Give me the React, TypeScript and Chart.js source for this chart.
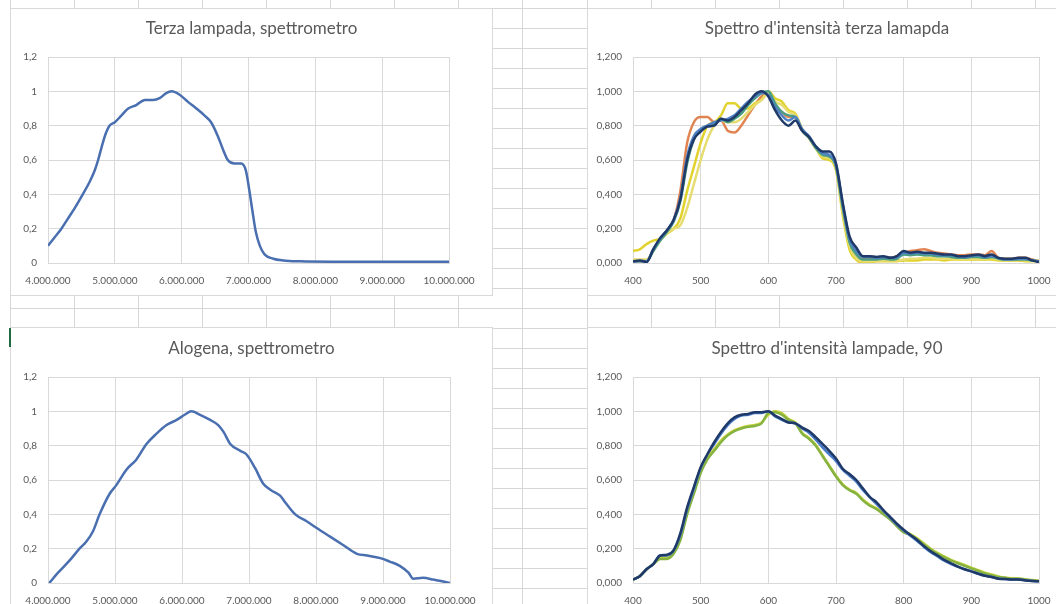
import React, { useEffect, useRef } from "react";
import { Chart, registerables } from "chart.js";

Chart.register(...registerables);

// ---------- DATA ----------
// Chart A: Terza lampada, spettrometro
const xA = [4000000, 4100000, 4200000, 4300000, 4400000, 4520000, 4620000, 4700000, 4750000, 4820000, 4870000, 4920000, 5000000, 5100000, 5200000, 5320000, 5450000, 5570000, 5670000, 5770000, 5850000, 5970000, 6090000, 6220000, 6340000, 6440000, 6540000, 6620000, 6690000, 6790000, 6890000, 6960000, 7010000, 7060000, 7110000, 7170000, 7240000, 7370000, 7520000, 7770000, 8260000, 9000000, 10000000];
const yA = [0.10, 0.15, 0.20, 0.26, 0.32, 0.40, 0.47, 0.54, 0.60, 0.70, 0.76, 0.80, 0.82, 0.86, 0.90, 0.92, 0.95, 0.95, 0.96, 0.99, 1.00, 0.98, 0.94, 0.90, 0.86, 0.82, 0.74, 0.66, 0.60, 0.58, 0.58, 0.54, 0.43, 0.30, 0.18, 0.10, 0.05, 0.025, 0.015, 0.01, 0.008, 0.008, 0.008];

// Chart C: Alogena, spettrometro
const xC = [4020000, 4150000, 4320000, 4470000, 4570000, 4670000, 4770000, 4920000, 5020000, 5170000, 5320000, 5470000, 5620000, 5770000, 5920000, 6040000, 6140000, 6270000, 6420000, 6540000, 6620000, 6720000, 6870000, 6960000, 7090000, 7210000, 7330000, 7460000, 7560000, 7690000, 7860000, 8010000, 8210000, 8410000, 8610000, 8760000, 8960000, 9100000, 9250000, 9380000, 9450000, 9600000, 9750000, 10000000];
const yC = [0.00, 0.06, 0.13, 0.20, 0.24, 0.30, 0.40, 0.52, 0.57, 0.66, 0.72, 0.81, 0.87, 0.92, 0.95, 0.98, 1.00, 0.98, 0.95, 0.92, 0.88, 0.81, 0.77, 0.75, 0.67, 0.58, 0.54, 0.51, 0.46, 0.40, 0.36, 0.32, 0.27, 0.22, 0.17, 0.16, 0.145, 0.125, 0.10, 0.06, 0.025, 0.03, 0.02, 0.00];

// Wavelengths (nm) for the intensity spectra
const nm = [400, 410, 420, 430, 440, 450, 460, 470, 480, 490, 500, 510, 520, 530, 540, 550, 560, 570, 580, 590, 600, 610, 620, 630, 640, 650, 660, 670, 680, 690, 700, 710, 720, 730, 740, 750, 760, 770, 780, 790, 800, 810, 820, 830, 840, 850, 860, 870, 880, 890, 900, 910, 920, 930, 940, 950, 960, 970, 980, 990, 1000];

// Chart B: Spettro d'intensità terza lamapda
const bNavy = [0.01, 0.015, 0.005, 0.08, 0.145, 0.19, 0.25, 0.37, 0.60, 0.72, 0.765, 0.795, 0.80, 0.84, 0.83, 0.85, 0.89, 0.93, 0.98, 1.00, 0.97, 0.89, 0.83, 0.80, 0.83, 0.77, 0.735, 0.68, 0.65, 0.65, 0.58, 0.35, 0.155, 0.09, 0.04, 0.04, 0.035, 0.04, 0.03, 0.04, 0.07, 0.06, 0.065, 0.06, 0.06, 0.055, 0.05, 0.05, 0.04, 0.04, 0.045, 0.05, 0.04, 0.05, 0.03, 0.025, 0.025, 0.03, 0.03, 0.015, 0.005];
const bBlue = [0.01, 0.012, 0.01, 0.08, 0.14, 0.19, 0.25, 0.38, 0.62, 0.74, 0.78, 0.80, 0.82, 0.83, 0.84, 0.86, 0.90, 0.94, 0.97, 0.99, 0.98, 0.91, 0.86, 0.83, 0.85, 0.78, 0.74, 0.68, 0.64, 0.63, 0.57, 0.34, 0.14, 0.07, 0.035, 0.035, 0.03, 0.035, 0.03, 0.035, 0.06, 0.055, 0.06, 0.055, 0.055, 0.05, 0.045, 0.045, 0.04, 0.035, 0.04, 0.045, 0.035, 0.04, 0.03, 0.02, 0.02, 0.025, 0.025, 0.015, 0.01];
const bGreen = [0.01, 0.01, 0.01, 0.07, 0.13, 0.18, 0.24, 0.36, 0.58, 0.72, 0.78, 0.80, 0.81, 0.84, 0.82, 0.84, 0.87, 0.92, 0.96, 0.99, 1.00, 0.93, 0.88, 0.86, 0.85, 0.77, 0.73, 0.67, 0.63, 0.62, 0.56, 0.32, 0.12, 0.05, 0.02, 0.02, 0.02, 0.025, 0.02, 0.025, 0.05, 0.045, 0.05, 0.045, 0.045, 0.04, 0.04, 0.035, 0.03, 0.03, 0.035, 0.035, 0.03, 0.035, 0.025, 0.02, 0.02, 0.02, 0.02, 0.015, 0.01];
const bOrange = [0.01, 0.01, 0.01, 0.08, 0.14, 0.19, 0.25, 0.42, 0.70, 0.82, 0.85, 0.85, 0.82, 0.83, 0.77, 0.76, 0.80, 0.86, 0.92, 0.97, 0.99, 0.92, 0.88, 0.85, 0.85, 0.77, 0.73, 0.67, 0.63, 0.62, 0.56, 0.33, 0.12, 0.06, 0.03, 0.03, 0.03, 0.03, 0.03, 0.04, 0.06, 0.07, 0.075, 0.08, 0.07, 0.06, 0.055, 0.05, 0.045, 0.045, 0.05, 0.05, 0.045, 0.07, 0.03, 0.025, 0.025, 0.03, 0.03, 0.02, 0.01];
const bYellow = [0.07, 0.08, 0.11, 0.13, 0.14, 0.17, 0.20, 0.26, 0.42, 0.56, 0.70, 0.80, 0.82, 0.86, 0.93, 0.93, 0.90, 0.90, 0.93, 0.95, 1.00, 0.96, 0.94, 0.89, 0.87, 0.78, 0.73, 0.67, 0.61, 0.60, 0.54, 0.28, 0.08, 0.02, 0.00, 0.00, 0.01, 0.01, 0.01, 0.01, 0.015, 0.015, 0.015, 0.02, 0.02, 0.02, 0.015, 0.02, 0.02, 0.02, 0.02, 0.02, 0.02, 0.02, 0.015, 0.015, 0.015, 0.015, 0.01, 0.01, 0.01];
const bPale = [0.02, 0.02, 0.02, 0.07, 0.13, 0.17, 0.20, 0.22, 0.32, 0.46, 0.60, 0.72, 0.80, 0.83, 0.82, 0.82, 0.84, 0.88, 0.92, 0.95, 0.99, 0.94, 0.92, 0.88, 0.86, 0.78, 0.73, 0.67, 0.62, 0.61, 0.55, 0.30, 0.10, 0.03, 0.01, 0.01, 0.01, 0.015, 0.015, 0.015, 0.02, 0.025, 0.025, 0.03, 0.03, 0.025, 0.025, 0.025, 0.025, 0.025, 0.025, 0.025, 0.025, 0.03, 0.02, 0.02, 0.02, 0.02, 0.015, 0.015, 0.015];

// Chart D: Spettro d'intensità lampade, 90
const dNavy = [0.02, 0.04, 0.08, 0.11, 0.16, 0.165, 0.19, 0.29, 0.44, 0.56, 0.675, 0.75, 0.82, 0.88, 0.93, 0.965, 0.98, 0.985, 0.995, 0.995, 1.00, 0.975, 0.955, 0.935, 0.93, 0.905, 0.885, 0.85, 0.81, 0.77, 0.725, 0.665, 0.635, 0.60, 0.55, 0.50, 0.47, 0.425, 0.385, 0.345, 0.31, 0.28, 0.25, 0.215, 0.185, 0.16, 0.135, 0.115, 0.095, 0.08, 0.068, 0.054, 0.042, 0.035, 0.025, 0.023, 0.02, 0.02, 0.015, 0.012, 0.01];
const dBlue = [0.02, 0.04, 0.08, 0.11, 0.16, 0.16, 0.19, 0.28, 0.43, 0.55, 0.67, 0.75, 0.81, 0.87, 0.92, 0.955, 0.975, 0.98, 0.99, 0.99, 1.00, 0.97, 0.95, 0.935, 0.93, 0.90, 0.875, 0.835, 0.79, 0.75, 0.71, 0.66, 0.625, 0.59, 0.54, 0.50, 0.46, 0.42, 0.38, 0.34, 0.305, 0.275, 0.245, 0.21, 0.18, 0.155, 0.13, 0.11, 0.095, 0.08, 0.068, 0.055, 0.043, 0.035, 0.026, 0.023, 0.02, 0.02, 0.016, 0.012, 0.01];
const dGreen = [0.02, 0.04, 0.08, 0.11, 0.14, 0.14, 0.17, 0.25, 0.40, 0.52, 0.64, 0.72, 0.77, 0.82, 0.86, 0.885, 0.90, 0.91, 0.915, 0.93, 0.99, 0.995, 0.98, 0.95, 0.93, 0.87, 0.84, 0.80, 0.74, 0.68, 0.62, 0.57, 0.54, 0.52, 0.48, 0.45, 0.43, 0.40, 0.37, 0.33, 0.295, 0.28, 0.255, 0.225, 0.195, 0.17, 0.15, 0.13, 0.115, 0.10, 0.085, 0.07, 0.055, 0.045, 0.035, 0.03, 0.025, 0.025, 0.02, 0.015, 0.012];
const dYellow = [0.02, 0.04, 0.08, 0.11, 0.15, 0.15, 0.175, 0.26, 0.41, 0.53, 0.65, 0.73, 0.78, 0.83, 0.865, 0.89, 0.905, 0.915, 0.92, 0.935, 0.98, 1.00, 0.99, 0.955, 0.935, 0.875, 0.845, 0.805, 0.745, 0.685, 0.625, 0.575, 0.545, 0.525, 0.485, 0.455, 0.435, 0.405, 0.375, 0.335, 0.30, 0.285, 0.26, 0.23, 0.20, 0.175, 0.155, 0.135, 0.12, 0.105, 0.09, 0.075, 0.06, 0.05, 0.038, 0.032, 0.028, 0.026, 0.022, 0.017, 0.013];

// Tick labels
const xLabelsMillions = ["4.000.000", "5.000.000", "6.000.000", "7.000.000", "8.000.000", "9.000.000", "10.000.000"];
const yLabelsShort = ["0", "0,2", "0,4", "0,6", "0,8", "1", "1,2"];
const xLabelsNm = ["400", "500", "600", "700", "800", "900", "1000"];
const yLabelsLong = ["0,000", "0,200", "0,400", "0,600", "0,800", "1,000", "1,200"];

// ---------- STYLE ----------
const FONT = "Lato, 'Liberation Sans', Arial, sans-serif";
const TEXT = "#595959";
const GRID = "#d9d9d9";
const CELL = "#d6d6d6";

const colCells = [10, 74, 138, 202, 266, 330, 394, 458, 522, 587, 651, 715, 779, 843, 907, 971, 1035];
const rowCells = Array.from({ length: 31 }, (_, k) => 8 + 20 * k);

type Series = { label: string; xs: number[]; ys: number[]; color: string };

function pairs(xs: number[], ys: number[]) {
  return xs.map((x, i) => ({ x, y: ys[i] }));
}

function makeConfig(p: {
  title: string;
  series: Series[];
  xMin: number;
  xMax: number;
  xStep: number;
  xLabels: string[];
  yLabels: string[];
  yWidth: number;
  xHeight: number;
  padRight: number;
  titleTop: number;
  titleBottom: number;
}): any {
  return {
    type: "line",
    data: {
      datasets: p.series.map((s) => ({
        label: s.label,
        data: pairs(s.xs, s.ys),
        borderColor: s.color,
        backgroundColor: s.color,
        borderWidth: 2.5,
        pointRadius: 0,
        cubicInterpolationMode: "monotone",
        fill: false,
      })),
    },
    options: {
      responsive: false,
      animation: false,
      events: [],
      layout: { padding: 0 },
      plugins: {
        legend: { display: false },
        tooltip: { enabled: false },
        title: {
          display: true,
          text: p.title,
          color: TEXT,
          font: { family: FONT, size: 17, weight: "normal", lineHeight: "18px" },
          padding: { top: p.titleTop, bottom: p.titleBottom },
        },
      },
      scales: {
        x: {
          type: "linear",
          min: p.xMin,
          max: p.xMax,
          grid: { color: GRID, drawTicks: false, lineWidth: 1 },
          border: { display: true, color: GRID },
          ticks: {
            stepSize: p.xStep,
            autoSkip: false,
            maxRotation: 0,
            padding: 12,
            color: TEXT,
            font: { family: FONT, size: 10 },
            callback: (v: any) => p.xLabels[Math.round((Number(v) - p.xMin) / p.xStep)] ?? "",
          },
          afterFit: (scale: any) => {
            scale.height = p.xHeight;
          },
        },
        y: {
          min: 0,
          max: 1.2,
          grid: { color: GRID, drawTicks: false, lineWidth: 1 },
          border: { display: true, color: GRID },
          ticks: {
            stepSize: 0.2,
            padding: 11,
            color: TEXT,
            font: { family: FONT, size: 10 },
            callback: (v: any) => p.yLabels[Math.round(Number(v) / 0.2)] ?? "",
          },
          afterFit: (scale: any) => {
            scale.width = p.yWidth;
          },
        },
        // empty spacer on the right so the title stays centred on the whole chart box
        spacer: {
          position: "right",
          min: 0,
          max: 1.2,
          grid: { display: false, drawTicks: false },
          border: { display: false },
          ticks: { display: false },
          afterFit: (scale: any) => {
            scale.width = p.padRight;
          },
        },
      },
    },
  };
}

function ChartBox(props: { left: number; top: number; width: number; height: number; config: any }) {
  const ref = useRef<HTMLCanvasElement | null>(null);
  useEffect(() => {
    if (!ref.current) return;
    const chart = new Chart(ref.current, props.config);
    return () => chart.destroy();
  }, []);
  const cw = props.width - 2;
  const ch = props.height - 2;
  return (
    <div
      style={{
        position: "absolute",
        left: props.left,
        top: props.top,
        width: props.width,
        height: props.height,
        boxSizing: "border-box",
        border: `1px solid ${GRID}`,
        background: "#ffffff",
      }}
    >
      <canvas ref={ref} width={cw} height={ch} style={{ display: "block", width: cw, height: ch }} />
    </div>
  );
}

const cfgA = makeConfig({
  title: "Terza lampada, spettrometro",
  series: [{ label: "Terza lampada", xs: xA, ys: yA, color: "#4a6fb0" }],
  xMin: 4000000, xMax: 10000000, xStep: 1000000,
  xLabels: xLabelsMillions, yLabels: yLabelsShort,
  yWidth: 37, xHeight: 32, padRight: 43, titleTop: 11, titleBottom: 19,
});

const cfgB = makeConfig({
  title: "Spettro d'intensità terza lamapda",
  series: [
    { label: "S6", xs: nm, ys: bNavy, color: "#1f3a68" },
    { label: "S5", xs: nm, ys: bBlue, color: "#4f81c4" },
    { label: "S4", xs: nm, ys: bGreen, color: "#4a9e82" },
    { label: "S3", xs: nm, ys: bPale, color: "#e6dc70" },
    { label: "S2", xs: nm, ys: bYellow, color: "#e2d22e" },
    { label: "S1", xs: nm, ys: bOrange, color: "#e08552" },
  ],
  xMin: 400, xMax: 1000, xStep: 100,
  xLabels: xLabelsNm, yLabels: yLabelsLong,
  yWidth: 45, xHeight: 32, padRight: 27, titleTop: 11, titleBottom: 19,
});

const cfgC = makeConfig({
  title: "Alogena, spettrometro",
  series: [{ label: "Alogena", xs: xC, ys: yC, color: "#4a6fb0" }],
  xMin: 4000000, xMax: 10000000, xStep: 1000000,
  xLabels: xLabelsMillions, yLabels: yLabelsShort,
  yWidth: 37, xHeight: 43, padRight: 42, titleTop: 12, titleBottom: 19,
});

const cfgD = makeConfig({
  title: "Spettro d'intensità lampade, 90",
  series: [
    { label: "L4", xs: nm, ys: dNavy, color: "#1f3a68" },
    { label: "L3", xs: nm, ys: dBlue, color: "#4a7bc8" },
    { label: "L2", xs: nm, ys: dGreen, color: "#86b340" },
    { label: "L1", xs: nm, ys: dYellow, color: "#c8d23c" },
  ],
  xMin: 400, xMax: 1000, xStep: 100,
  xLabels: xLabelsNm, yLabels: yLabelsLong,
  yWidth: 45, xHeight: 43, padRight: 27, titleTop: 12, titleBottom: 19,
});

export default function App() {
  return (
    <div
      style={{
        position: "fixed",
        left: 0,
        top: 0,
        width: 1056,
        height: 604,
        overflow: "hidden",
        background: "#ffffff",
      }}
    >
      {rowCells.map((y) => (
        <div key={"r" + y} style={{ position: "absolute", left: 10, top: y, width: 1046, height: 1, background: CELL }} />
      ))}
      {colCells.map((x) => (
        <div key={"c" + x} style={{ position: "absolute", left: x, top: 0, width: 1, height: 604, background: CELL }} />
      ))}
      <ChartBox left={10} top={8} width={483} height={288} config={cfgA} />
      <ChartBox left={587} top={8} width={480} height={288} config={cfgB} />
      <ChartBox left={10} top={327} width={483} height={300} config={cfgC} />
      <ChartBox left={587} top={327} width={480} height={300} config={cfgD} />
      <div style={{ position: "absolute", left: 9, top: 328, width: 2, height: 19, background: "#1e6b41" }} />
    </div>
  );
}
